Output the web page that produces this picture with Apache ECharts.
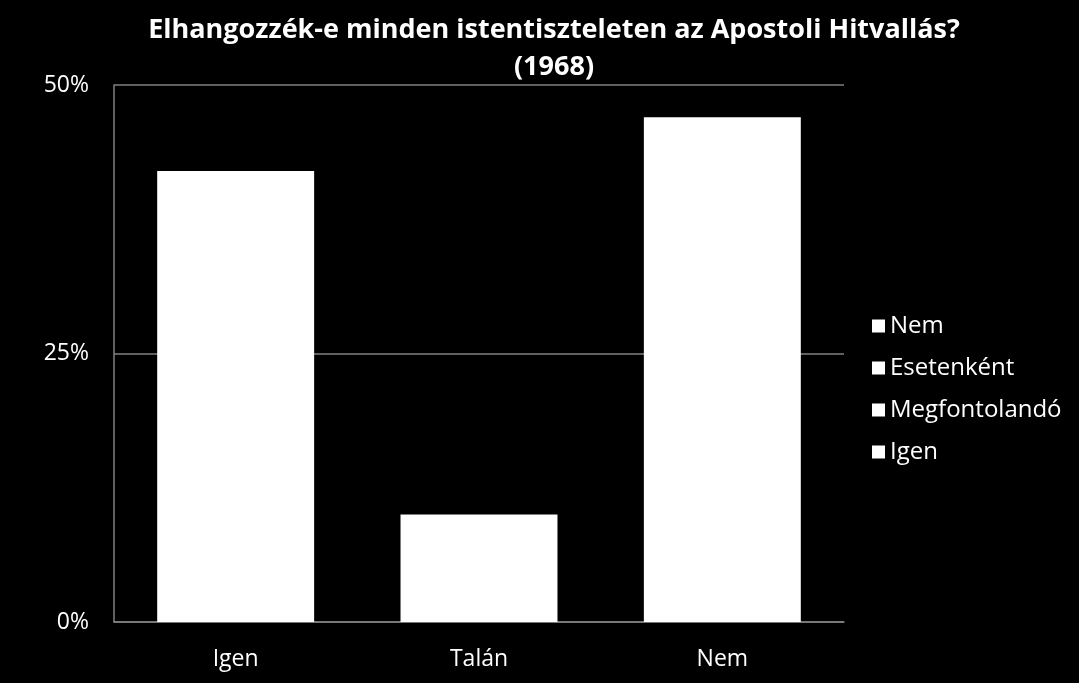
<!DOCTYPE html>
<html><head><meta charset="utf-8">
<script src="https://cdn.jsdelivr.net/npm/echarts@6/dist/echarts.min.js"></script>
<style>html,body{margin:0;padding:0;background:#000;}#c{width:1079px;height:683px;}</style>
</head><body><div id="c"></div>
<script>
const categories = ['Igen', 'Talán', 'Nem'];
const values = [42, 10, 47];
const legendNames = ['Nem', 'Esetenként', 'Megfontolandó', 'Igen'];
const yTicks = [0, 25, 50];

const chart = echarts.init(document.getElementById('c'));
const font = '"Open Sans", Lato, sans-serif';
const series = legendNames.map(n => ({
  name: n, type: 'bar', stack: 's', barWidth: '64.5%',
  itemStyle: { color: '#ffffff' },
  data: n === 'Igen' ? values : categories.map(() => null)
}));
chart.setOption({
  backgroundColor: '#000000',
  animation: false,
  title: {
    text: 'Elhangozzék-e minden istentiszteleten az Apostoli Hitvallás?\n(1968)',
    left: 549, top: 7, textAlign: 'center',
    textStyle: { color: '#ffffff', fontFamily: font, fontWeight: 'bold', fontSize: 27, lineHeight: 37 }
  },
  legend: {
    data: legendNames, orient: 'vertical', left: 867, top: 309,
    icon: 'rect', itemWidth: 13, itemHeight: 13, itemGap: 18,
    textStyle: { color: '#ffffff', fontFamily: font, fontSize: 24, padding: [0, 0, 0, 0] }
  },
  grid: { left: 114, right: 235, top: 85, bottom: 61, containLabel: false },
  xAxis: {
    type: 'category', data: categories,
    axisLine: { lineStyle: { color: '#808080', width: 1.5 } },
    axisTick: { show: false },
    axisLabel: { color: '#ffffff', fontFamily: font, fontSize: 23, margin: 26 }
  },
  yAxis: {
    type: 'value', min: yTicks[0], max: yTicks[yTicks.length - 1], interval: 25,
    axisLine: { show: true, lineStyle: { color: '#808080', width: 1.5 } },
    axisTick: { show: false },
    splitLine: { lineStyle: { color: '#808080', width: 1.5 } },
    axisLabel: { color: '#ffffff', fontFamily: font, fontSize: 23, margin: 25, formatter: v => v + '%' }
  },
  series: series
});
</script></body></html>
